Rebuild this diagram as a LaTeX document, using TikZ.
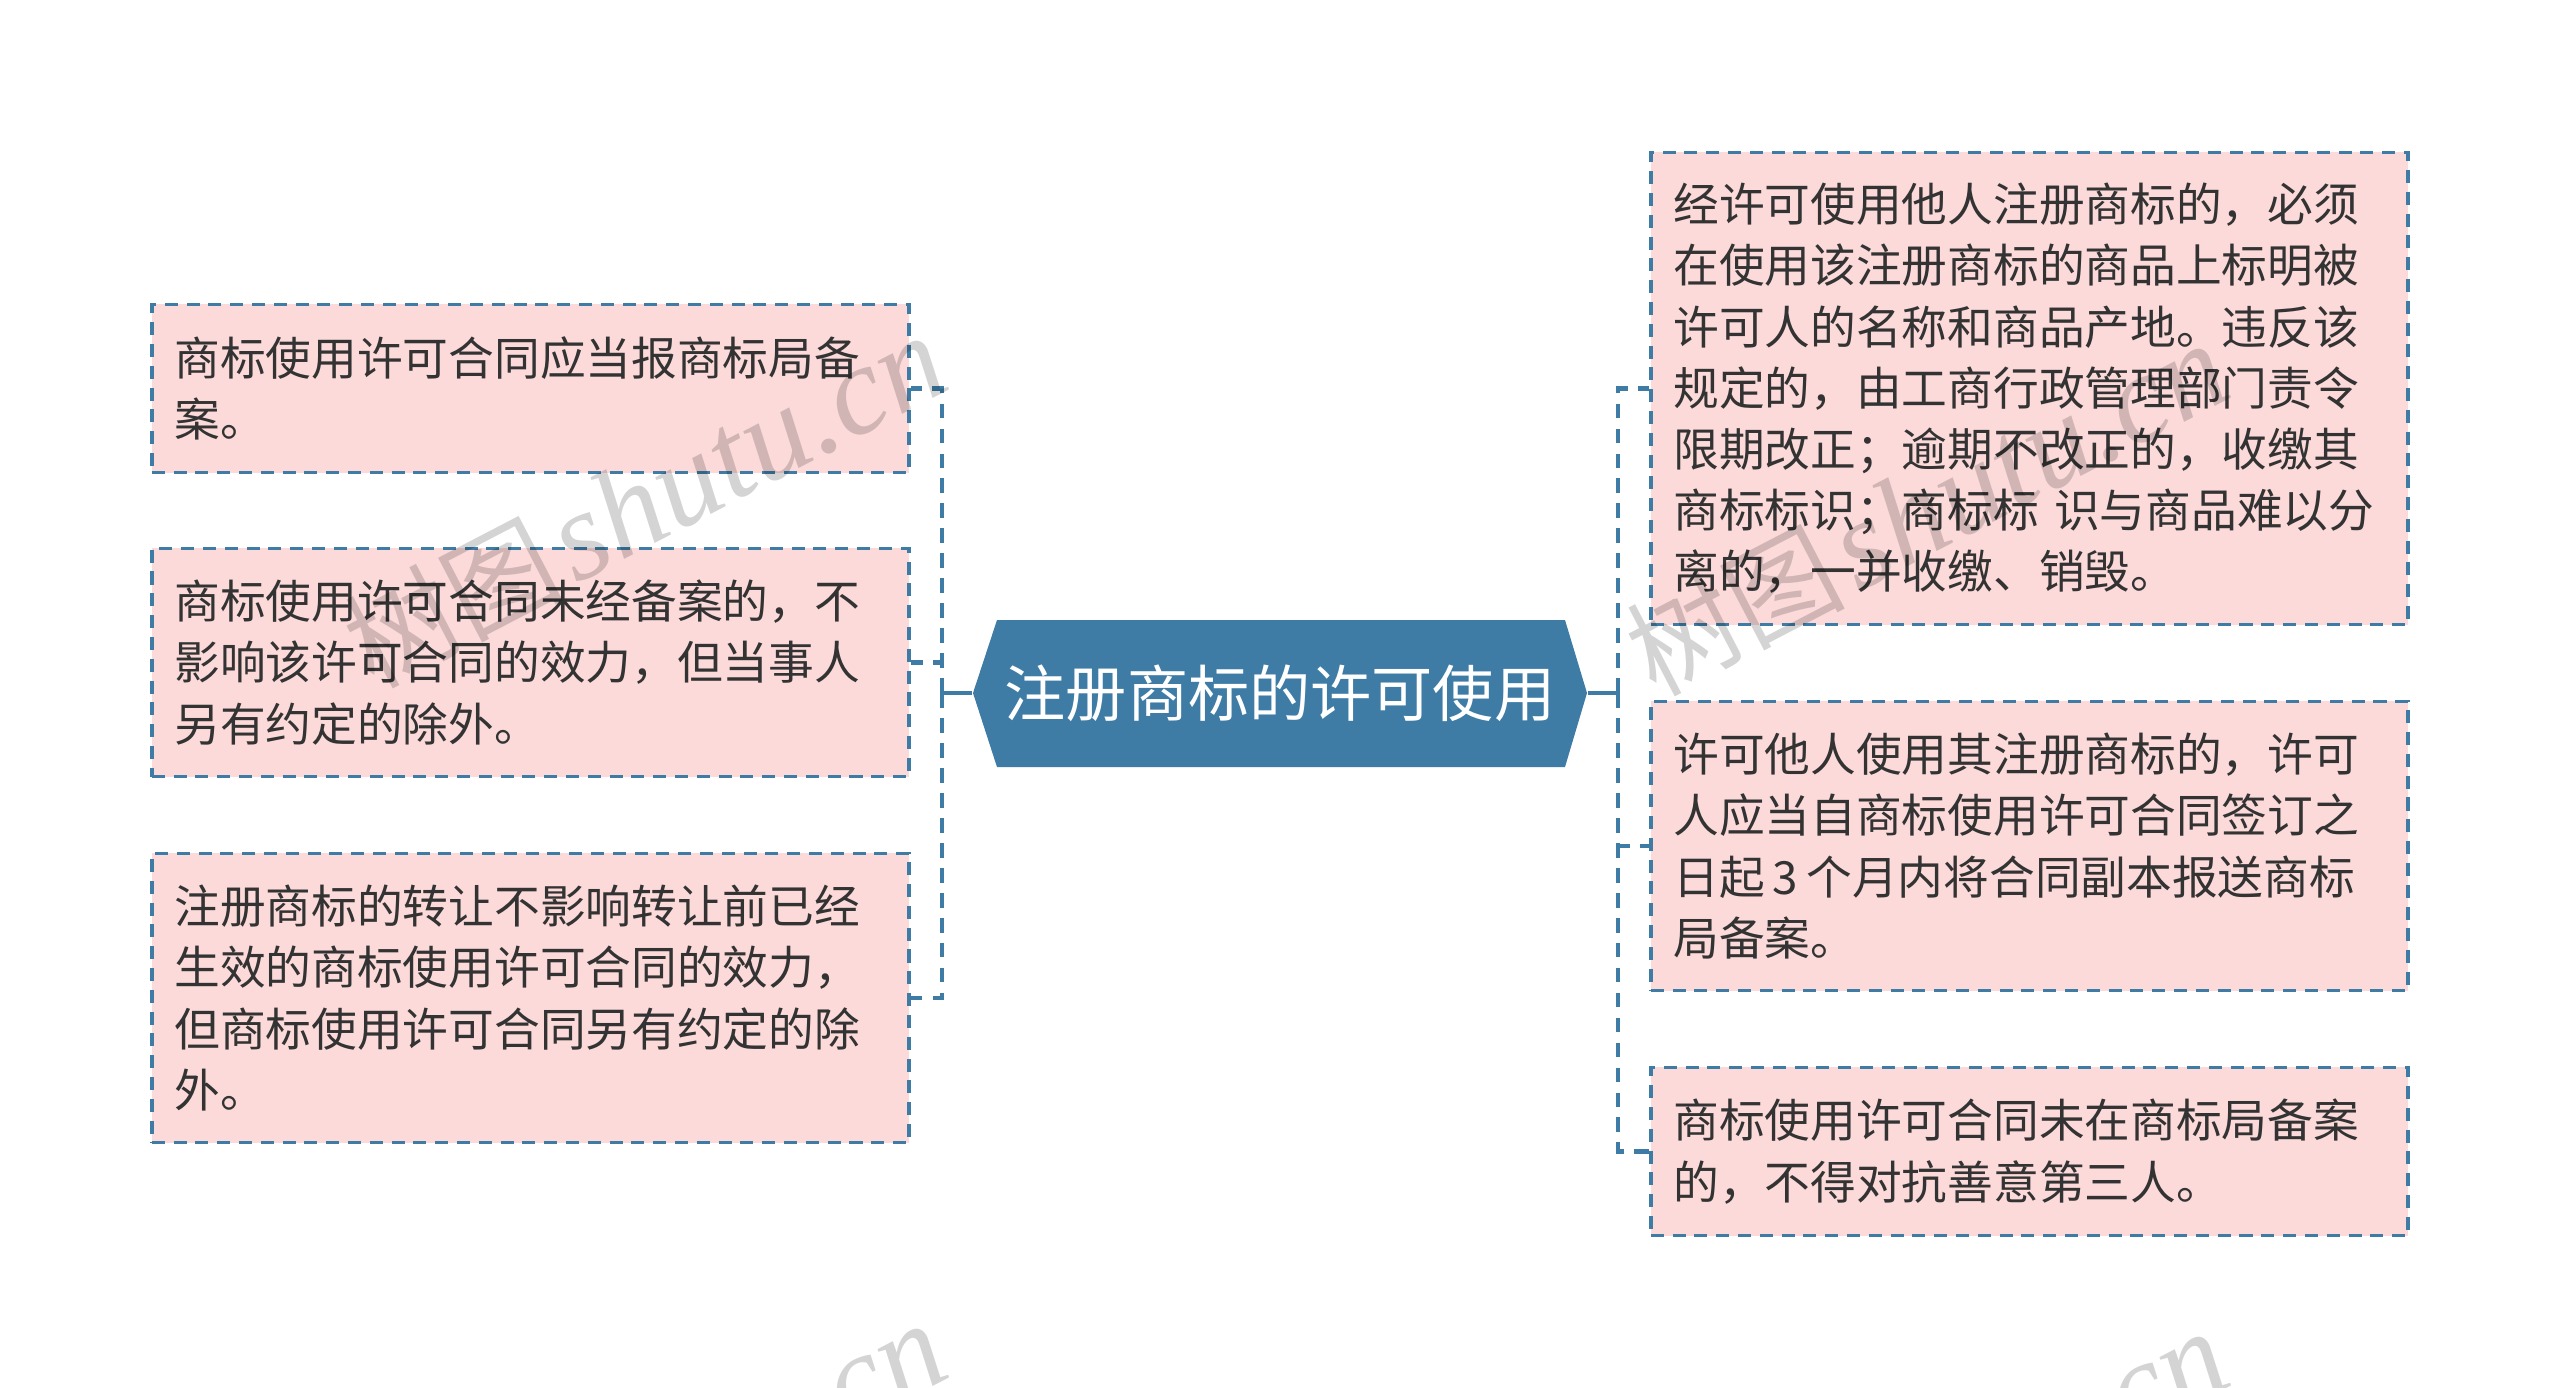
\documentclass[tikz,border=0pt]{standalone}
\usepackage{fontspec}
\setmainfont{Noto Sans CJK SC}
\newfontfamily\markfont{Liberation Serif}
\definecolor{linkblue}{HTML}{3E7CA6}
\definecolor{boxpink}{HTML}{FCDADA}
\definecolor{bodygray}{HTML}{333333}
\tikzset{
	notebox/.style={rectangle,draw=linkblue,fill=boxpink,line width=1pt,dash pattern=on 3.7pt off 2.5pt,
		text=bodygray,text width=7.12cm,inner xsep=0.225cm,inner ysep=0pt,minimum width=7.57cm,align=left,
		font=\fontsize{13pt}{17.4pt}\selectfont},
	link/.style={draw=linkblue,line width=1.2pt,dash pattern=on 4.2pt off 2.9pt},
	stem/.style={draw=linkblue,line width=1.2pt},
	markword/.style={rotate=27.5,text=black,opacity=0.17,inner sep=0pt,font=\fontsize{31pt}{31pt}\selectfont}
}
\begin{document}
\begin{tikzpicture}[x=0.01cm,y=-0.01cm]
	\useasboundingbox (0,0) rectangle (2560,1387);
	
	%centre
	\fill[linkblue] (973,693) -- (997,620) -- (1565,620) -- (1587,693) -- (1565,767) -- (997,767) -- cycle;
	\node[rectangle,minimum width=6.14cm,minimum height=1.47cm,inner sep=0pt,text=white,font=\fontsize{17.4pt}{20pt}\selectfont](root) at (1280,693) {注册商标的许可使用};
	%left boxes
	\node[notebox,minimum height=1.68cm](leftA) at (530.5,388.5) {商标使用许可合同应当报商标局备\\案。};
	\node[notebox,minimum height=2.28cm](leftB) at (530.5,662.5) {商标使用许可合同未经备案的，不\\影响该许可合同的效力，但当事人\\另有约定的除外。};
	\node[notebox,minimum height=2.89cm](leftC) at (530.5,998) {注册商标的转让不影响转让前已经\\生效的商标使用许可合同的效力，\\但商标使用许可合同另有约定的除\\外。};
	%right boxes
	\node[notebox,minimum height=4.72cm](rightA) at (2029.5,388.5) {经许可使用他人注册商标的，必须\\在使用该注册商标的商品上标明被\\许可人的名称和商品产地。违反该\\规定的，由工商行政管理部门责令\\限期改正；逾期不改正的，收缴其\\商标标识；商标标 识与商品难以分\\离的，一并收缴、销毁。};
	\node[notebox,minimum height=2.89cm](rightB) at (2029.5,846) {许可他人使用其注册商标的，许可\\人应当自商标使用许可合同签订之\\日起\hspace{0.18em}3\hspace{0.18em}个月内将合同副本报送商标\\局备案。};
	\node[notebox,minimum height=1.68cm](rightC) at (2029.5,1151.5) {商标使用许可合同未在商标局备案\\的，不得对抗善意第三人。};
	%connectors
	\coordinate (leftjoin) at (942,693);
	\coordinate (rightjoin) at (1618,693);
	\draw[stem] (root.west) -- (leftjoin);
	\draw[stem] (root.east) -- (rightjoin);
	\draw[link] (leftjoin) |- (leftA.east);
	\draw[link] (leftjoin) |- (leftB.east);
	\draw[link] (leftjoin) |- (leftC.east);
	\draw[link] (rightjoin) |- (rightA.west);
	\draw[link] (rightjoin) |- (rightB.west);
	\draw[link] (rightjoin) |- (rightC.west);
	%watermarks
	\begin{scope}
	\clip (0,0) rectangle (2560,1387);
	\foreach \markname/\markx/\marky in {ma/645/502,mb/1927/510,mc/645/1490,md/1927/1498}{
		\node[markword](\markname) at (\markx,\marky) {树图\hspace{0.1em}{\markfont\itshape\fontsize{36pt}{36pt}\selectfont shutu.cn}};
	}
	\end{scope}
\end{tikzpicture}
\end{document}
